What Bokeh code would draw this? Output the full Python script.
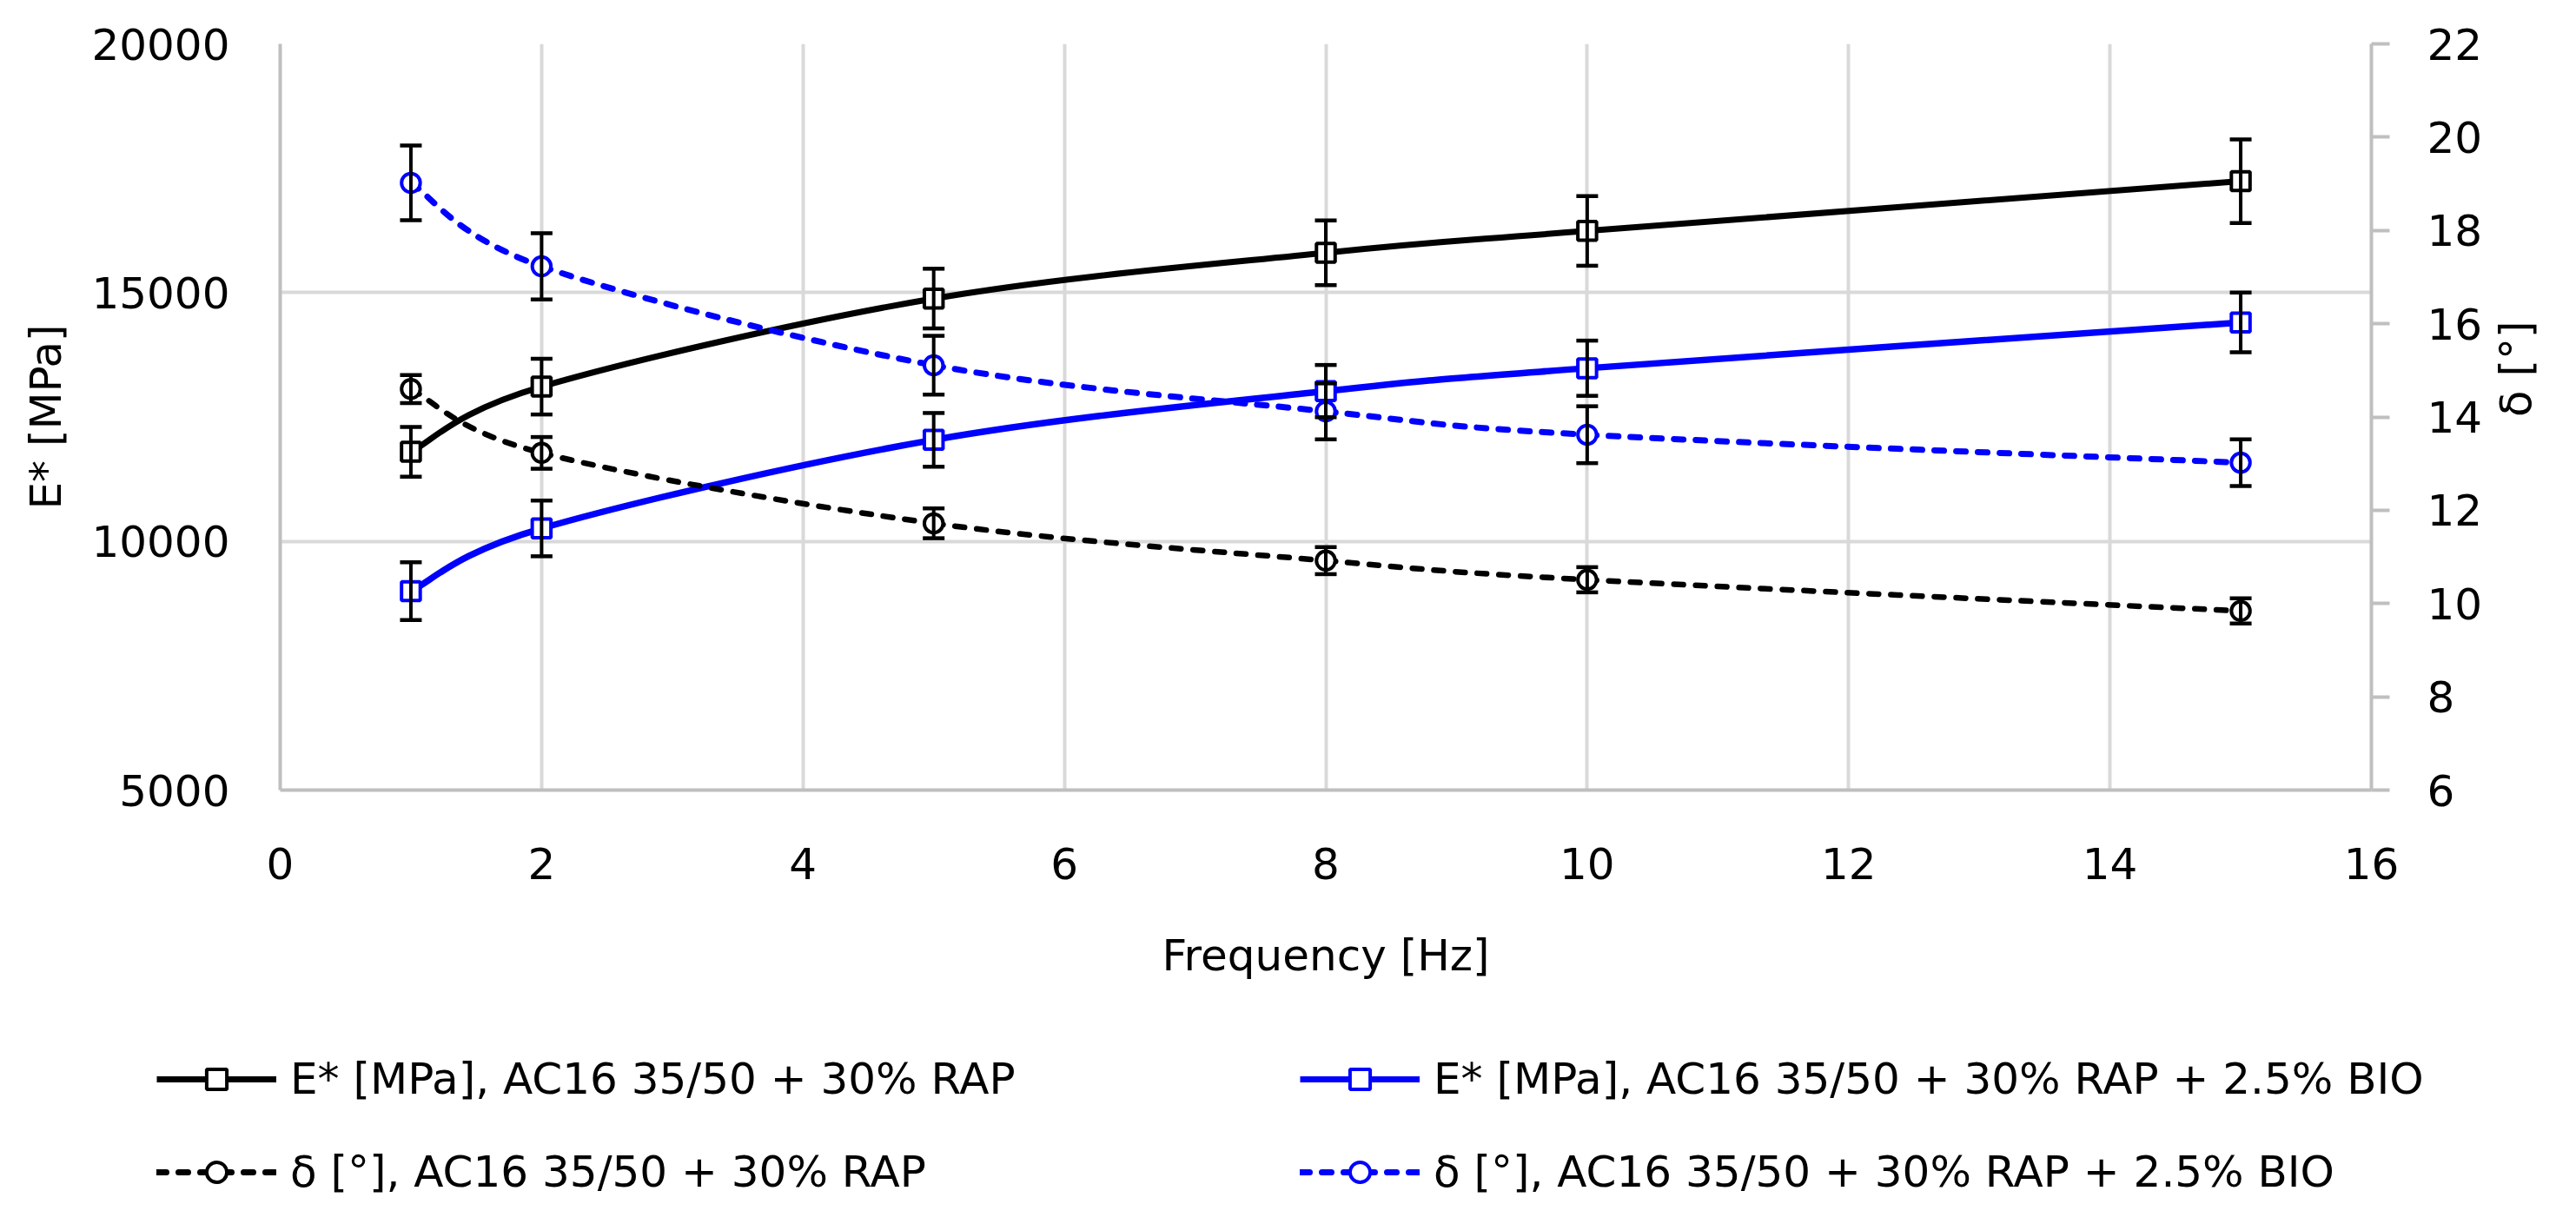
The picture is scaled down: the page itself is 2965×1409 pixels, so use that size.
import math
from bokeh.plotting import figure
from bokeh.models import (Range1d, LinearAxis, FixedTicker, ColumnDataSource,
                          Whisker, TeeHead, Legend, LegendItem)
from bokeh.layouts import column, row
from bokeh.embed import file_html
from bokeh.resources import INLINE

# ---------------- data ----------------
freq = [1, 2, 5, 8, 10, 15]

e_rap = [11800, 13110, 14880, 15800, 16240, 17240]
e_rap_err = [500, 560, 600, 650, 700, 840]

e_bio = [9000, 10260, 12040, 13020, 13480, 14400]
e_bio_err = [580, 560, 540, 525, 555, 600]

d_rap = [14.60, 13.23, 11.72, 10.92, 10.51, 9.84]
d_rap_err = [0.30, 0.34, 0.32, 0.29, 0.27, 0.27]

d_bio = [19.02, 17.23, 15.11, 14.12, 13.62, 13.02]
d_bio_err = [0.80, 0.71, 0.63, 0.60, 0.61, 0.50]

x_ticks = [0, 2, 4, 6, 8, 10, 12, 14, 16]
e_ticks = [5000, 10000, 15000, 20000]
d_ticks = [6, 8, 10, 12, 14, 16, 18, 20, 22]

labels = [
    "E* [MPa], AC16 35/50 + 30% RAP",
    "E* [MPa], AC16 35/50 + 30% RAP + 2.5% BIO",
    "δ [°], AC16 35/50 + 30% RAP",
    "δ [°], AC16 35/50 + 30% RAP + 2.5% BIO",
]

FONT = "DejaVu Sans"
FS = "50px"
BLUE = "#0000ff"
AXIS_GRAY = "#bfbfbf"
GRID_GRAY = "#d9d9d9"
W = 2957
H_MAIN = 1160
H_LEG = 233


def smooth_segments(xs, ys):
    """Bezier control points for a smoothed line through the data points."""
    n = len(xs)
    out = dict(x0=[], y0=[], x1=[], y1=[], cx0=[], cy0=[], cx1=[], cy1=[])
    for i in range(n - 1):
        im1 = max(i - 1, 0)
        ip2 = min(i + 2, n - 1)
        out["x0"].append(xs[i]); out["y0"].append(ys[i])
        out["x1"].append(xs[i + 1]); out["y1"].append(ys[i + 1])
        out["cx0"].append(xs[i] + (xs[i + 1] - xs[im1]) / 6.0)
        out["cy0"].append(ys[i] + (ys[i + 1] - ys[im1]) / 6.0)
        out["cx1"].append(xs[i + 1] - (xs[ip2] - xs[i]) / 6.0)
        out["cy1"].append(ys[i + 1] - (ys[ip2] - ys[i]) / 6.0)
    return out


p = figure(width=W, height=H_MAIN, output_backend="svg", toolbar_location=None,
           x_range=Range1d(0, 16), y_range=Range1d(5000, 20000),
           min_border_left=322, min_border_right=W - 2729,
           min_border_top=50, min_border_bottom=H_MAIN - 909)
p.outline_line_color = None
p.background_fill_color = "white"
p.border_fill_color = "white"
p.extra_y_ranges = {"delta": Range1d(6, 22)}

# grids
p.xgrid.ticker = FixedTicker(ticks=x_ticks)
p.ygrid.ticker = FixedTicker(ticks=e_ticks)
for g in (p.xgrid[0], p.ygrid[0]):
    g.grid_line_color = GRID_GRAY
    g.grid_line_width = 4

# axes
xa = p.xaxis[0]
xa.ticker = FixedTicker(ticks=x_ticks)
xa.axis_label = "Frequency [Hz]"
xa.major_label_standoff = 66
xa.axis_label_standoff = 56

ya = p.yaxis[0]
ya.ticker = FixedTicker(ticks=e_ticks)
ya.axis_label = "E* [MPa]"
ya.major_label_standoff = 58
ya.axis_label_standoff = 20

ra = LinearAxis(y_range_name="delta", ticker=FixedTicker(ticks=d_ticks),
                axis_label="δ [°]")
p.add_layout(ra, "right")
ra.major_label_standoff = 43
ra.axis_label_standoff = 36
ra.axis_label_orientation = math.pi / 2

for ax in (xa, ya, ra):
    ax.axis_line_color = AXIS_GRAY
    ax.axis_line_width = 4
    ax.minor_tick_line_color = None
    ax.major_label_text_font = FONT
    ax.major_label_text_font_size = FS
    ax.major_label_text_color = "black"
    ax.axis_label_text_font = FONT
    ax.axis_label_text_font_size = FS
    ax.axis_label_text_font_style = "normal"
    ax.axis_label_text_color = "black"
for ax in (xa, ya):
    ax.major_tick_line_color = None
    ax.major_tick_out = 0
    ax.major_tick_in = 0
ra.major_tick_line_color = AXIS_GRAY
ra.major_tick_line_width = 4
ra.major_tick_out = 21
ra.major_tick_in = 0

# series: values, errors, colour, dash, marker, marker size, range, width
series = [
    (e_rap, e_rap_err, "black", "solid", "square", 21.5, "default", 7),
    (e_bio, e_bio_err, BLUE, "solid", "square", 21.5, "default", 7.5),
    (d_rap, d_rap_err, "black", "11 14", "circle", 21.5, "delta", 6.5),
    (d_bio, d_bio_err, BLUE, "11 14", "circle", 21.5, "delta", 7),
]

for ys, errs, color, dash, marker, msize, rng, lw in series:
    kw = {} if rng == "default" else {"y_range_name": rng}
    p.bezier(x0="x0", y0="y0", x1="x1", y1="y1", cx0="cx0", cy0="cy0",
             cx1="cx1", cy1="cy1",
             source=ColumnDataSource(smooth_segments(freq, ys)),
             line_color=color, line_width=lw, line_dash=dash,
             line_cap="round" if dash != "solid" else "butt", **kw)
    esrc = ColumnDataSource(dict(x=freq,
                                 upper=[v + e for v, e in zip(ys, errs)],
                                 lower=[v - e for v, e in zip(ys, errs)]))
    w = Whisker(source=esrc, base="x", upper="upper", lower="lower",
                dimension="height", line_color="black", line_width=4,
                upper_head=TeeHead(size=25, line_color="black", line_width=4.5),
                lower_head=TeeHead(size=25, line_color="black", line_width=4.5),
                level="glyph", **kw)
    p.add_layout(w)
    p.scatter(freq, ys, marker=marker, size=msize, line_width=4,
              line_color=color, fill_color="white", **kw)

# ---------------- legend strip below the chart ----------------
# (its series renderers lie outside this strip's ranges, so only the
#  legend swatches of them are seen)
lf = figure(width=W, height=H_LEG, output_backend="svg", toolbar_location=None,
            x_range=Range1d(0, 1), y_range=Range1d(0, 1),
            x_axis_type=None, y_axis_type=None,
            min_border_left=0, min_border_right=0,
            min_border_top=0, min_border_bottom=0)
lf.outline_line_color = None
lf.xgrid.visible = False
lf.ygrid.visible = False
lf.background_fill_color = "white"
lf.border_fill_color = "white"

items = []
for i, (ys, errs, color, dash, marker, msize, rng, lw) in enumerate(series):
    ln = lf.bezier(x0="x0", y0="y0", x1="x1", y1="y1", cx0="cx0", cy0="cy0",
                   cx1="cx1", cy1="cy1",
                   source=ColumnDataSource(smooth_segments(freq, ys)),
                   line_color=color, line_width=7, line_dash=dash,
                   line_cap="round" if dash != "solid" else "butt")
    mk = lf.scatter(freq, ys, marker=marker, line_width=4,
                    line_color=color, fill_color="white")
    items.append(LegendItem(label=labels[i], renderers=[ln, mk]))


def make_legend(its, loc):
    return Legend(items=its, location=loc, orientation="vertical",
                  spacing=49, padding=0, margin=0,
                  border_line_color=None, background_fill_alpha=0,
                  label_text_font=FONT, label_text_font_size=FS,
                  label_text_color="black", label_standoff=16,
                  glyph_width=138, glyph_height=58, label_height=40)


lf.add_layout(make_legend([items[0], items[2]], (180, 15)))
lf.add_layout(make_legend([items[1], items[3]], (1496, 15)))

open("out.html", "w").write(file_html(column(p, row(lf)), INLINE))
